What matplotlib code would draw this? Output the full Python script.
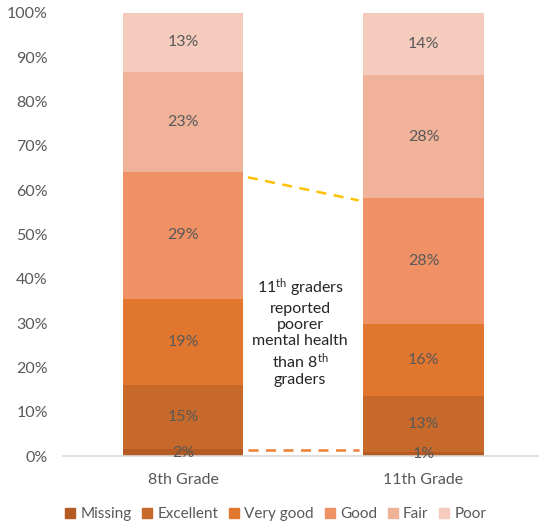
import numpy as np
import matplotlib
matplotlib.use("Agg")
from matplotlib import pyplot as plt
from matplotlib.lines import Line2D

plt.rcParams['font.family'] = ['Lato', 'DejaVu Sans']
plt.rcParams['mathtext.fontset'] = 'custom'
plt.rcParams['mathtext.rm'] = 'Lato'
plt.rcParams['mathtext.it'] = 'Lato'

grades = ['8th Grade', '11th Grade']
categories = ['Missing', 'Excellent', 'Very good', 'Good', 'Fair', 'Poor']
grade8 = [1.5, 14.6, 19.4, 28.6, 22.6, 13.3]
grade11 = [0.9, 12.6, 16.3, 28.4, 27.7, 14.1]
colors = ['#B45A22', '#C7692A', '#E1762E', '#EF9065', '#F1B29A', '#F5CBBE']
y_ticks = [0, 10, 20, 30, 40, 50, 60, 70, 80, 90, 100]

values = np.array([grade8, grade11])
x = np.arange(len(grades))

fig = plt.figure(figsize=(5.39, 5.27), dpi=100)
ax = fig.add_axes([63 / 539, 71 / 527, 476 / 539, 443 / 527])

bottom = np.zeros(len(grades))
for i, cat in enumerate(categories):
    ax.bar(x, values[:, i], 0.5, bottom=bottom, color=colors[i], label=cat)
    for j in range(len(grades)):
        ax.text(x[j], bottom[j] + values[j, i] / 2, '{:.0f}%'.format(values[j, i]),
                ha='center', va='center', fontsize=11.5, color='#595959')
    bottom += values[:, i]

# comparison lines between the two bars
tops = np.cumsum(values, axis=1)
ax.plot([x[0] + 0.27, x[1] - 0.27], [tops[0, 3] - 1.2, tops[1, 3] - 0.5],
        color='#FFC000', lw=1.8, ls=(0, (4, 3)))
ax.plot([x[0] + 0.27, x[1] - 0.27], [tops[0, 0] - 0.2, tops[1, 0] + 0.4],
        color='#ED7D31', lw=1.8, ls=(0, (4, 3)))

ax.text(0.487, 28, '11$^{\\mathrm{th}}$ graders\nreported\npoorer\nmental health\nthan 8$^{\\mathrm{th}}$\ngraders',
        ha='center', va='center', fontsize=11.5, color='#262626', linespacing=1.2)

ax.set_xlim(-0.499, 1.48)
ax.set_ylim(0, 100)
ax.set_yticks(y_ticks)
ax.set_yticklabels(['{}%'.format(t) for t in y_ticks])
ax.set_xticks(x)
ax.set_xticklabels(grades)
ax.tick_params(axis='y', length=0, pad=11, labelsize=11.5, labelcolor='#595959')
ax.tick_params(axis='x', length=0, pad=12, labelsize=11.5, labelcolor='#595959')
for side in ['left', 'right', 'top']:
    ax.spines[side].set_visible(False)
ax.spines['bottom'].set_color('#D9D9D9')
ax.spines['bottom'].set_linewidth(1.2)

handles = [Line2D([], [], marker='s', ls='', color=c, markersize=7) for c in colors]
fig.legend(handles, categories, loc='center', bbox_to_anchor=(0.51, 0.024), ncol=6,
           frameon=False, fontsize=11, handletextpad=0.2, columnspacing=0.6,
           handlelength=0.9, labelcolor='#595959')

fig.savefig('out.png', dpi=100)
